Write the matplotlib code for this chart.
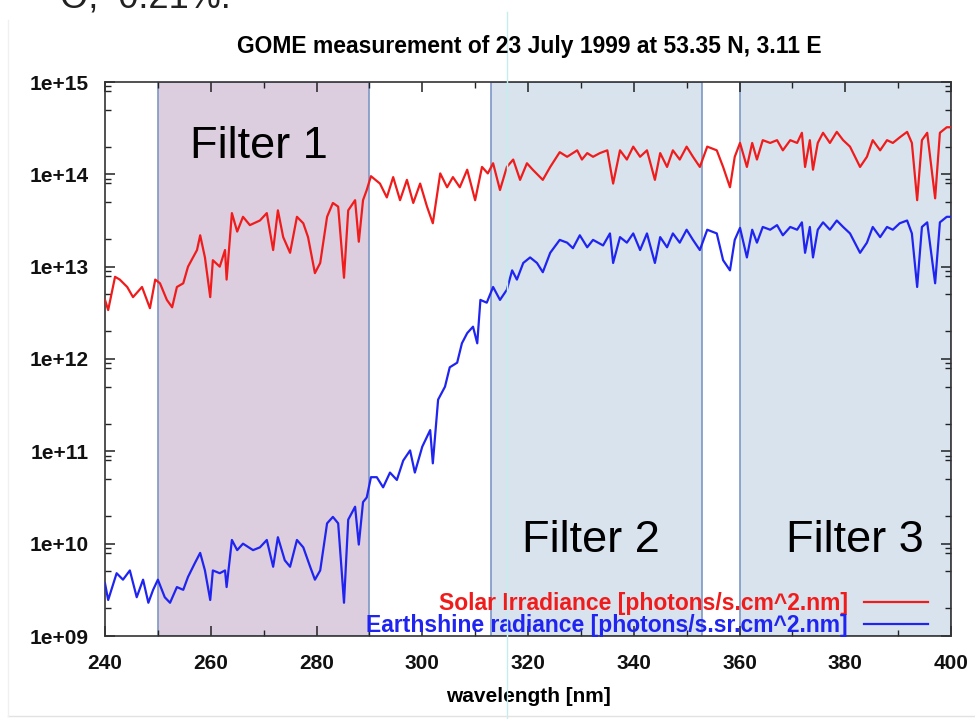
import numpy as np
import matplotlib
matplotlib.use("Agg")
import matplotlib.pyplot as plt
from matplotlib.ticker import LogLocator, FuncFormatter, MultipleLocator, NullFormatter
from matplotlib.lines import Line2D

plt.rcParams['font.family'] = ['Liberation Sans', 'DejaVu Sans']

title = "GOME measurement of 23 July 1999 at 53.35 N, 3.11 E"
xlabel = "wavelength [nm]"
solar_label = "Solar Irradiance [photons/s.cm^2.nm]"
earth_label = "Earthshine radiance [photons/s.sr.cm^2.nm]"
filters = [("Filter 1", 250, 290), ("Filter 2", 313, 353), ("Filter 3", 360, 400)]

# Solar irradiance: wavelength [nm] and log10(value)
solar_wl = [240.0, 240.6, 241.9, 242.8, 244.2, 245.3, 247.0, 248.5, 249.5, 250.4,
            251.7, 252.7, 253.6, 254.8, 255.7, 257.4, 258.0, 258.9, 259.9, 260.4,
            261.7, 262.7, 263.0, 264.0, 265.0, 266.1, 267.4, 269.3, 270.6, 271.8,
            272.7, 273.7, 275.0, 276.3, 277.5, 278.4, 279.7, 280.7, 282.0, 283.1,
            284.1, 285.2, 286.0, 287.3, 288.0, 288.8, 289.5, 290.3, 292.0, 293.3,
            294.5, 295.8, 297.1, 298.3, 299.6, 300.9, 302.0, 303.4, 304.7, 305.8,
            307.1, 308.5, 310.0, 311.3, 312.4, 313.4, 314.7, 316.0, 317.2, 318.5,
            319.8, 320.9, 322.8, 324.2, 326.0, 327.4, 329.3, 330.2, 331.2, 332.3,
            333.6, 335.0, 336.1, 337.4, 338.7, 339.9, 341.2, 342.5, 344.0, 345.0,
            346.3, 347.4, 348.7, 350.0, 351.2, 352.5, 353.9, 355.7, 356.9, 358.2,
            359.1, 360.1, 361.4, 362.4, 363.3, 364.4, 365.8, 367.1, 368.2, 369.6,
            370.9, 371.8, 372.4, 373.3, 373.9, 374.8, 375.8, 377.1, 378.4, 379.6,
            380.9, 382.8, 384.1, 385.2, 386.6, 387.9, 389.0, 390.3, 391.7, 392.6,
            393.6, 394.5, 395.5, 397.0, 397.9, 399.2, 400.0]
solar_log = [12.64, 12.53, 12.89, 12.86, 12.78, 12.67, 12.78, 12.55, 12.86, 12.82,
             12.64, 12.56, 12.78, 12.82, 13.00, 13.18, 13.34, 13.10, 12.67, 13.07,
             13.00, 13.18, 12.86, 13.58, 13.38, 13.54, 13.45, 13.50, 13.58, 13.18,
             13.61, 13.32, 13.15, 13.54, 13.47, 13.32, 12.93, 13.04, 13.54, 13.69,
             13.65, 12.88, 13.61, 13.72, 13.27, 13.72, 13.83, 13.98, 13.90, 13.75,
             13.97, 13.72, 13.94, 13.69, 13.90, 13.65, 13.47, 14.01, 13.86, 13.97,
             13.86, 14.05, 13.72, 14.08, 14.01, 14.12, 13.83, 14.08, 14.16, 13.94,
             14.12, 14.05, 13.94, 14.08, 14.24, 14.19, 14.26, 14.16, 14.23, 14.19,
             14.23, 14.26, 13.90, 14.26, 14.16, 14.30, 14.19, 14.26, 13.94, 14.23,
             14.08, 14.26, 14.16, 14.30, 14.19, 14.08, 14.30, 14.26, 14.08, 13.86,
             14.19, 14.34, 14.08, 14.34, 14.16, 14.37, 14.34, 14.37, 14.26, 14.37,
             14.34, 14.45, 14.08, 14.37, 14.05, 14.34, 14.45, 14.34, 14.46, 14.37,
             14.30, 14.08, 14.19, 14.37, 14.26, 14.37, 14.34, 14.40, 14.46, 14.34,
             13.72, 14.37, 14.45, 13.74, 14.45, 14.51, 14.51]

# Earthshine radiance: wavelength [nm] and log10(value)
earth_wl = [240.0, 240.6, 242.2, 243.4, 244.7, 246.0, 247.2, 248.2, 249.1, 250.0,
            251.3, 252.3, 253.6, 254.8, 255.7, 257.0, 258.0, 258.9, 259.9, 260.4,
            261.7, 262.7, 263.0, 264.0, 265.0, 266.1, 268.0, 269.3, 270.6, 271.8,
            272.7, 274.0, 275.0, 276.3, 277.5, 278.8, 279.7, 280.7, 282.0, 283.1,
            284.1, 285.2, 286.0, 287.3, 288.0, 288.8, 289.5, 290.3, 291.4, 292.6,
            293.9, 295.2, 296.4, 297.7, 298.6, 300.0, 301.5, 302.0, 303.0, 304.3,
            305.2, 306.6, 307.5, 308.5, 309.6, 310.4, 311.0, 312.2, 313.4, 314.7,
            316.0, 317.0, 317.9, 319.1, 320.4, 321.7, 322.8, 324.2, 326.0, 327.4,
            328.5, 329.8, 331.2, 332.3, 334.2, 335.5, 336.1, 337.4, 338.7, 339.9,
            341.2, 342.5, 344.0, 345.0, 346.3, 347.4, 348.7, 350.0, 351.2, 352.5,
            353.9, 355.7, 356.9, 358.2, 359.1, 360.1, 361.4, 362.4, 363.3, 364.4,
            365.8, 367.1, 368.2, 369.6, 370.9, 371.8, 372.4, 373.3, 373.9, 374.8,
            375.8, 377.1, 378.4, 379.6, 380.9, 382.8, 384.1, 385.2, 386.6, 387.9,
            389.0, 390.3, 391.7, 392.6, 393.6, 394.5, 395.5, 397.0, 397.9, 399.2,
            400.0]
earth_log = [9.57, 9.39, 9.68, 9.61, 9.71, 9.42, 9.61, 9.36, 9.50, 9.61,
             9.42, 9.36, 9.53, 9.50, 9.64, 9.79, 9.90, 9.71, 9.39, 9.71,
             9.68, 9.71, 9.53, 10.04, 9.93, 10.00, 9.93, 9.96, 10.04, 9.75,
             10.07, 9.82, 9.75, 10.04, 9.96, 9.75, 9.61, 9.71, 10.22, 10.29,
             10.22, 9.36, 10.26, 10.40, 9.99, 10.45, 10.50, 10.72, 10.72, 10.61,
             10.77, 10.69, 10.90, 11.01, 10.77, 11.05, 11.23, 10.87, 11.56, 11.70,
             11.91, 11.96, 12.17, 12.28, 12.35, 12.17, 12.64, 12.61, 12.78, 12.64,
             12.75, 12.96, 12.86, 13.04, 13.10, 13.04, 12.94, 13.15, 13.29, 13.26,
             13.20, 13.34, 13.21, 13.29, 13.23, 13.36, 13.04, 13.32, 13.26, 13.36,
             13.18, 13.36, 13.04, 13.32, 13.21, 13.36, 13.26, 13.40, 13.29, 13.18,
             13.40, 13.36, 13.07, 12.96, 13.29, 13.42, 13.10, 13.40, 13.26, 13.43,
             13.40, 13.45, 13.34, 13.43, 13.40, 13.48, 13.15, 13.43, 13.10, 13.40,
             13.48, 13.40, 13.50, 13.43, 13.36, 13.15, 13.26, 13.43, 13.32, 13.43,
             13.40, 13.47, 13.50, 13.36, 12.78, 13.43, 13.48, 12.82, 13.48, 13.54,
             13.54]

solar_vals = np.power(10.0, solar_log)
earth_vals = np.power(10.0, earth_log)

W, H = 975, 719
fig = plt.figure(figsize=(W / 100, H / 100), dpi=100)
fig.patch.set_facecolor('white')

# partial slide text cut at the top
fig.text(60 / W, 1 - 7 / H, "O,  0.21%:", fontsize=26, color='#222222',
         ha='left', va='baseline')
# slide artifacts: guide line and faint frame
fig.add_artist(Line2D([507 / W, 507 / W], [0, 1 - 12 / H], transform=fig.transFigure,
                      color='#c4eeee', lw=1))
fig.add_artist(Line2D([8 / W, 1], [1 - 716 / H, 1 - 716 / H], transform=fig.transFigure,
                      color='#e2e2e2', lw=1))
fig.add_artist(Line2D([8 / W, 8 / W], [1 - 716 / H, 1 - 20 / H], transform=fig.transFigure,
                      color='#f0f0f0', lw=1))

ax = fig.add_axes([105 / W, 1 - 636 / H, 846 / W, 554 / H])

face = ['#dccddf', '#d9e3ee', '#d9e3ee']
for (name, a, b), fc in zip(filters, face):
    ax.axvspan(a, b, facecolor=fc, edgecolor='#7d97c6', lw=1.2, zorder=0)

ax.plot(solar_wl, solar_vals, color='#f01c1c', lw=1.6, label=solar_label, zorder=3)
ax.plot(earth_wl, earth_vals, color='#1f24f0', lw=1.6, label=earth_label, zorder=3)

ax.set_yscale('log')
ax.set_xlim(240, 400)
ax.set_ylim(1e9, 1e15)
ax.xaxis.set_major_locator(MultipleLocator(20))
ax.xaxis.set_minor_locator(MultipleLocator(10))
ax.yaxis.set_major_locator(LogLocator(base=10, numticks=10))
ax.yaxis.set_minor_locator(LogLocator(base=10, subs=(2.0, 5.0, 8.0, 9.0), numticks=20))
ax.yaxis.set_major_formatter(FuncFormatter(lambda v, p: f"{v:.0e}"))
ax.yaxis.set_minor_formatter(NullFormatter())

ax.tick_params(which='both', direction='in', top=True, right=True, colors='#222222')
ax.tick_params(which='major', length=7, width=1.1)
ax.tick_params(which='minor', length=4, width=1.0)
ax.tick_params(axis='x', which='major', pad=13)
ax.tick_params(axis='y', which='major', pad=12)
for lab in ax.get_xticklabels() + ax.get_yticklabels():
    lab.set_fontweight('bold')
    lab.set_fontsize(15)
    lab.set_color('#111111')
for s in ax.spines.values():
    s.set_color('#333333')
    s.set_linewidth(1.2)

ax.set_xlabel(xlabel, fontsize=15, fontweight='bold', labelpad=10)
fig.text(529 / W, 1 - 47 / H, title, fontsize=16.5, fontweight='bold',
         ha='center', va='center')

ftxt = [(256.1, 10 ** 14.18), (318.9, 10 ** 9.91), (368.8, 10 ** 9.91)]
for (name, a, b), (tx, ty) in zip(filters, ftxt):
    ax.text(tx, ty, name, fontsize=32.5, ha='left', va='baseline', color='black', zorder=4)

leg = ax.legend(loc='lower right', bbox_to_anchor=(0.973, -0.001), frameon=False,
                markerfirst=False, handlelength=2.8, handletextpad=0.7,
                labelspacing=-0.08, borderpad=0, borderaxespad=0,
                prop={'weight': 'bold', 'size': 16.5}, labelcolor='linecolor')

fig.savefig('out.png', dpi=100)
